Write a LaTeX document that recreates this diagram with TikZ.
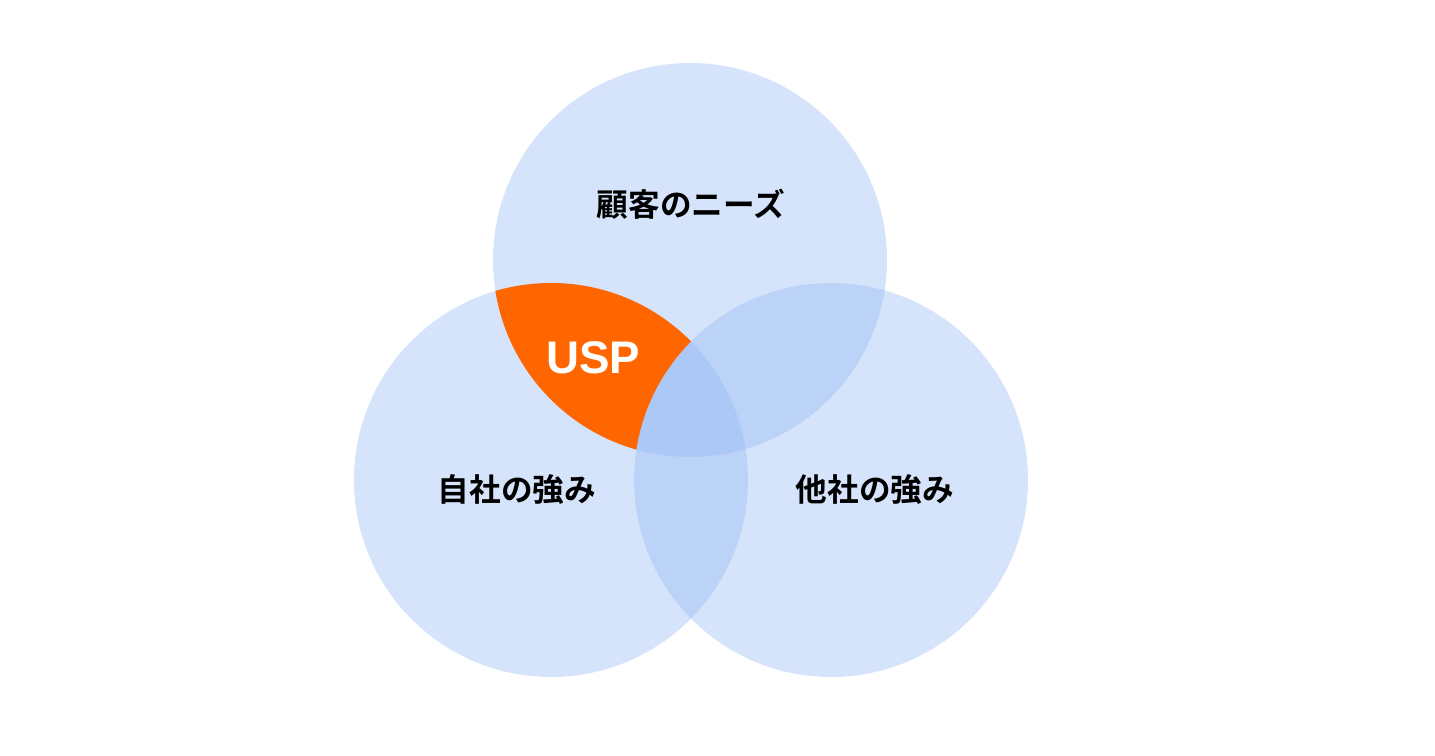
\documentclass[tikz,border=0pt]{standalone}
\usepackage{fontspec}
\usepackage{tikz}
\usepackage{xcolor}
\setsansfont{Liberation Sans}
\newfontfamily\jpfont{Noto Sans CJK JP}[BoldFont={Noto Sans CJK JP Bold}]

\definecolor{vennblue}{RGB}{143,181,244}
\definecolor{uspor}{RGB}{255,102,0}

\tikzset{
  venn/.style={fill=vennblue, fill opacity=0.366, draw=none},
  lbl/.style={font=\jpfont\bfseries\fontsize{18}{22}\selectfont, text=black},
  usplbl/.style={font=\sffamily\bfseries\fontsize{26}{30}\selectfont, text=white}
}

\begin{document}
\begin{tikzpicture}
\useasboundingbox (0,0) rectangle (28.7,15.1);

\fill[venn] (13.8, 9.9) circle (3.94);
\fill[venn] (11.02, 5.5) circle (3.94);
\fill[venn] (16.62, 5.5) circle (3.94);

%\fill[uspor] (13.8, 9.9) circle (3.94);
\begin{scope}
\clip (13.8, 9.9) circle (3.94);
\clip (11.02, 5.5) circle (3.94);
\fill[uspor, even odd rule] (0,0) rectangle (28.7,15.1) (16.62, 5.5) circle (3.94);
\end{scope}

\node[lbl] (needs) at (13.82, 11.02) {顧客のニーズ};
\node[lbl] (own) at (10.34, 5.3) {自社の強み};
\node[lbl] (rival) at (17.5, 5.3) {他社の強み};
\node[usplbl] (usp) at (11.86, 7.94) {USP};

\end{tikzpicture}
\end{document}
